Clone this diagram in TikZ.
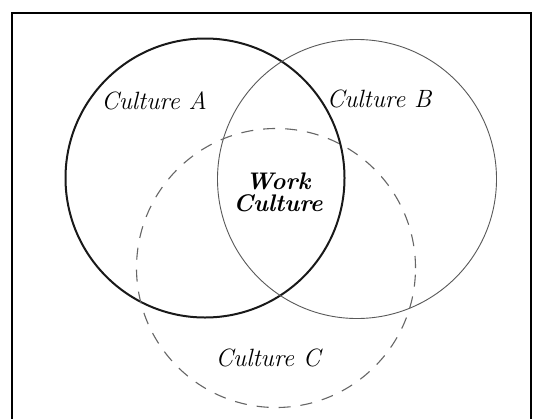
\documentclass[tikz,border=0pt]{standalone}
\usepackage{tikz}

\begin{document}
\begin{tikzpicture}[x=1pt, y=-1pt,
  ring/.style={circle, draw, minimum size=279pt, inner sep=0pt},
  label/.style={font=\fontsize{25}{28}\selectfont\itshape, inner sep=0pt}]
  \clip (0,0) rectangle (537,418);
  \fill[white] (0,0) rectangle (537,418);
  \draw[line width=1.5pt] (12,13) rectangle (531,440);
  \node (A) [ring, line width=2pt, draw=black!90] at (205,178) {};
  \node (B) [ring, line width=0.9pt, draw=black!65] at (357,179) {};
  \node (C) [ring, line width=1.1pt, draw=black!60, dash pattern=on 12pt off 10pt] at (276,268) {};
  \node (a) [label] at (154,101) {Culture A};
  \node (b) [label] at (379,99) {Culture B};
  \node (c) [label] at (268,358) {Culture C};
  \node (w) [label, font=\fontsize{24}{22}\selectfont\bfseries\itshape, align=center] at (278,192) {Work\\Culture};
\end{tikzpicture}
\end{document}
